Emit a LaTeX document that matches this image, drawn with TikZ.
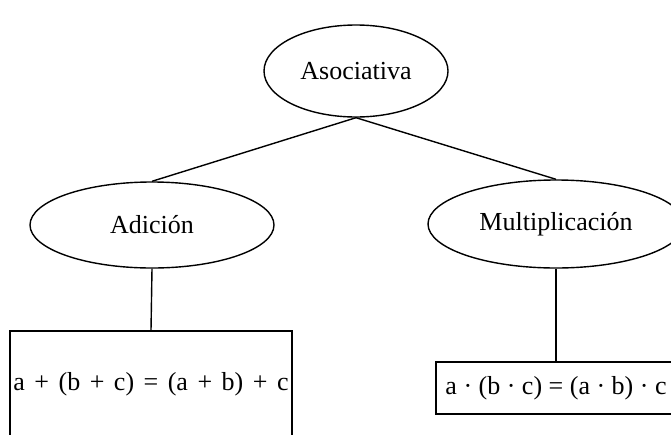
\documentclass[tikz,border=0pt]{standalone}
\usepackage{fontspec}
\setmainfont{Liberation Serif}
\usetikzlibrary{shapes.geometric}
\begin{document}
\begin{tikzpicture}[x=1pt,y=-1pt,
  lbl/.style={font=\fontsize{26}{30}\selectfont},
  oval/.style={ellipse,draw,line width=1.4pt,inner sep=0pt,lbl},
  formula/.style={rectangle,draw,line width=1.4pt,inner sep=0pt,lbl},
  link/.style={line width=1.4pt}]
\useasboundingbox (0,0) rectangle (671,434);
\clip (0,0) rectangle (671,434);
\fill[white] (0,0) rectangle (671,434);
% concept ovals
\node[oval,minimum width=184pt,minimum height=92pt] (asoc) at (356,71) {Asociativa};
\node[oval,minimum width=244pt,minimum height=86pt] (adic) at (152,225) {Adición};
\node[oval,minimum width=256pt,minimum height=88pt] (mult) at (556,224) {Multiplicación};
% formula boxes
\node[formula,minimum width=282pt,minimum height=106pt] (sum) at (151,384) {\spaceskip=9.5pt\relax a + (b + c) = (a + b) + c};
\node[formula,minimum width=240pt,minimum height=52pt] (prod) at (556,388) {a · (b · c) = (a · b) · c};
% connectors
\draw[link] (asoc.south) -- (adic.north);
\draw[link] (asoc.south) -- (mult.north);
\draw[link] (adic.south) -- (sum.north);
\draw[link] (mult.south) -- (prod.north);
\end{tikzpicture}
\end{document}
